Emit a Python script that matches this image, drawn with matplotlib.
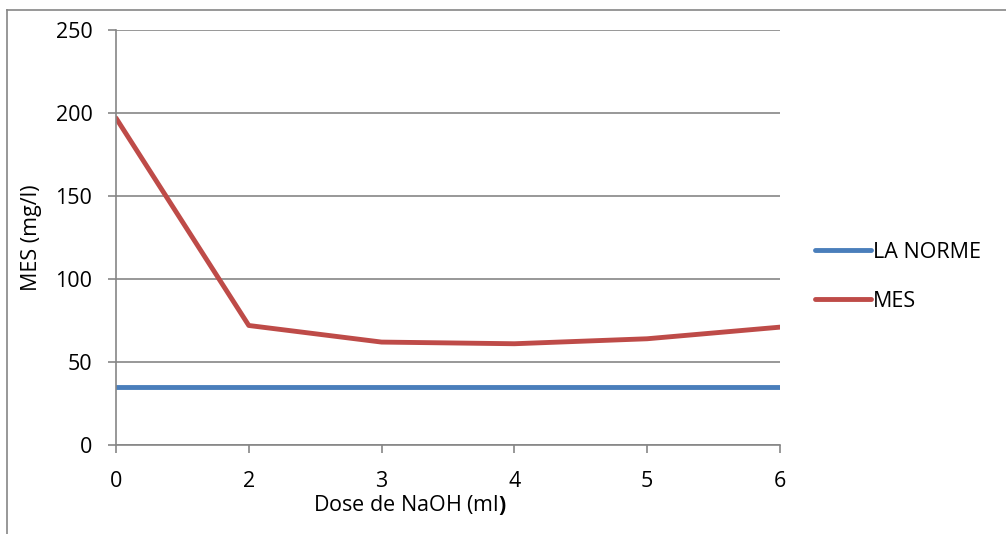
import matplotlib.pyplot as plt
from matplotlib.lines import Line2D

plt.rcParams['font.family'] = ['Open Sans', 'DejaVu Sans']
plt.rcParams['mathtext.fontset'] = 'custom'
plt.rcParams['mathtext.rm'] = 'Open Sans'
plt.rcParams['mathtext.bf'] = 'Open Sans:bold'

doses = ["0", "2", "3", "4", "5", "6"]
norme = [35, 35, 35, 35, 35, 35]
mes = [197, 72, 62, 61, 64, 71]

blue = "#4A7EBB"
red = "#BE4B48"
grid_col = "#868686"
fs = 15.5

fig = plt.figure(figsize=(10.06, 5.34), dpi=100)
ax = fig.add_axes([0.1153, 0.1667, 0.66, 0.777])

x = list(range(len(doses)))
ax.plot(x, norme, color=blue, lw=3.5, solid_capstyle="round", label="LA NORME")
ax.plot(x, mes, color=red, lw=3.5, solid_capstyle="round",
        solid_joinstyle="round", label="MES")

ax.set_xlim(0, len(doses) - 1)
ax.set_ylim(0, 250)
ax.set_yticks(range(0, 251, 50))
ax.set_xticks(x)
ax.set_xticklabels(doses)
ax.yaxis.grid(True, color=grid_col, lw=1.2)
ax.set_axisbelow(True)

for side in ("top", "right"):
    ax.spines[side].set_visible(False)
for side in ("left", "bottom"):
    ax.spines[side].set_color(grid_col)
    ax.spines[side].set_linewidth(1.2)

ax.tick_params(axis="both", colors=grid_col, labelcolor="black",
               labelsize=fs, length=6, width=1.2)
ax.tick_params(axis="x", pad=13)
ax.tick_params(axis="y", pad=11)

ax.set_ylabel("MES (mg/l)", fontsize=fs)
ax.yaxis.set_label_coords(-0.112, 0.5)
ax.set_xlabel(r"Dose de NaOH (ml$\mathbf{)}$", fontsize=fs)
ax.xaxis.set_label_coords(0.443, -0.115)

leg = ax.legend(loc="upper left", bbox_to_anchor=(1.053, 0.49), frameon=False,
                fontsize=fs, handlelength=2.6, handletextpad=0.1,
                labelspacing=1.3, borderpad=0, borderaxespad=0)

# chart area frame (top and left edges)
fig.add_artist(Line2D([7 / 1006, 1.01], [1 - 10 / 534] * 2,
                      transform=fig.transFigure, color=grid_col, lw=1.2))
fig.add_artist(Line2D([7 / 1006] * 2, [-0.01, 1 - 10 / 534],
                      transform=fig.transFigure, color=grid_col, lw=1.2))

fig.savefig("out.png", dpi=100, facecolor="white")
